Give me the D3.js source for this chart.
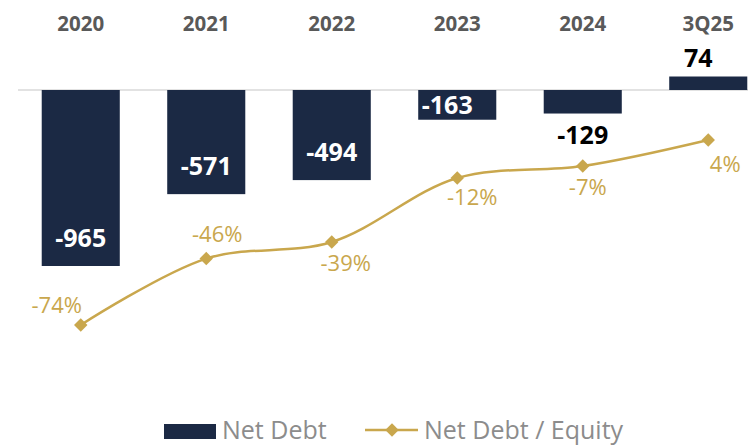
<!DOCTYPE html>
<html>
<head>
<meta charset="utf-8">
<script src="https://cdn.jsdelivr.net/npm/d3@7"></script>
<style>
  html, body { margin: 0; padding: 0; background: #ffffff; }
  svg { display: block; font-family: "Open Sans", "Noto Sans", sans-serif; }
</style>
</head>
<body>
<svg id="chart" width="748" height="445"></svg>
<script>
// Periods shown along the top
const periods = ["2020", "2021", "2022", "2023", "2024", "3Q25"];
// Net debt (bars)
const netDebt = [-965, -571, -494, -163, -129, 74];
// Net debt / equity, in percent (line)
const netDebtEquity = [-74, -46, -39, -12, -7, 4];
// Legend entries
const legendLabels = ["Net Debt", "Net Debt / Equity"];

// Where each bar label sits relative to its bar, and a horizontal nudge
const barLabelMode = ["inside", "inside", "inside", "inside", "outside", "outside"];
const barLabelNudge = [0, 0, 0, -10, 0, -10];
// Offset of each ratio label from its marker
const pctLabelOffset = [[-24, -20], [11, -24], [14, 21], [15, 19], [5, 21], [17, 24]];

const NAVY = "#1b2944";
const GOLD = "#c9a74d";

const svg = d3.select("#chart");

const x = d3.scaleBand().domain(periods).range([18, 771]).paddingInner(0.378).paddingOuter(0.189);
const y = d3.scaleLinear().domain([-965, 0]).range([266, 90]);
const y2 = d3.scaleLinear().domain([-74, 4]).range([325, 140]);

// period labels across the top
svg.append("g").selectAll("text").data(periods).join("text")
  .attr("x", d => x(d) + x.bandwidth() / 2)
  .attr("y", 31)
  .attr("text-anchor", "middle")
  .attr("font-size", 20.5).attr("font-weight", 700)
  .attr("fill", "#595959")
  .text(d => d);

// zero line
svg.append("line")
  .attr("x1", 18).attr("x2", 748)
  .attr("y1", y(0)).attr("y2", y(0))
  .attr("stroke", "#d9d9d9").attr("stroke-width", 1.5);

// bars
svg.append("g").selectAll("rect").data(netDebt).join("rect")
  .attr("x", (d, i) => x(periods[i]))
  .attr("width", x.bandwidth())
  .attr("y", d => Math.min(y(d), y(0)))
  .attr("height", d => Math.abs(y(d) - y(0)))
  .attr("fill", NAVY);

// bar value labels
svg.append("g").selectAll("text").data(netDebt).join("text")
  .attr("x", (d, i) => x(periods[i]) + x.bandwidth() / 2 + barLabelNudge[i])
  .attr("y", (d, i) => {
    if (barLabelMode[i] === "inside") return Math.max(y(d) - 19, y(0) + 24);
    return d < 0 ? y(d) + 30 : y(d) - 10;
  })
  .attr("text-anchor", "middle")
  .attr("font-size", 25).attr("font-weight", 700)
  .attr("fill", (d, i) => barLabelMode[i] === "inside" ? "#ffffff" : "#000000")
  .text(d => d);

// ratio line
const line = d3.line()
  .x((d, i) => x(periods[i]) + x.bandwidth() / 2)
  .y(d => y2(d))
  .curve(d3.curveCatmullRom.alpha(0.5));

svg.append("path")
  .datum(netDebtEquity)
  .attr("d", line)
  .attr("fill", "none")
  .attr("stroke", GOLD)
  .attr("stroke-width", 2.5);

const diamond = d3.symbol().type(d3.symbolDiamond2).size(115);

svg.append("g").selectAll("path").data(netDebtEquity).join("path")
  .attr("d", diamond)
  .attr("transform", (d, i) => `translate(${x(periods[i]) + x.bandwidth() / 2},${y2(d)})`)
  .attr("fill", GOLD);

svg.append("g").selectAll("text").data(netDebtEquity).join("text")
  .attr("x", (d, i) => x(periods[i]) + x.bandwidth() / 2 + pctLabelOffset[i][0])
  .attr("y", (d, i) => y2(d) + pctLabelOffset[i][1])
  .attr("dy", "0.35em")
  .attr("text-anchor", "middle")
  .attr("font-size", 22)
  .attr("fill", GOLD)
  .text(d => d + "%");

// legend
const legend = svg.append("g");
legend.append("rect")
  .attr("x", 164).attr("y", 424).attr("width", 52).attr("height", 15)
  .attr("fill", NAVY);
legend.append("text")
  .attr("x", 222).attr("y", 439)
  .attr("font-size", 25).attr("fill", "#8c8c8c")
  .text(legendLabels[0]);
legend.append("line")
  .attr("x1", 365).attr("x2", 418).attr("y1", 430).attr("y2", 430)
  .attr("stroke", GOLD).attr("stroke-width", 2.5);
legend.append("path")
  .attr("d", diamond)
  .attr("transform", "translate(392,430)")
  .attr("fill", GOLD);
legend.append("text")
  .attr("x", 424).attr("y", 439)
  .attr("font-size", 25).attr("fill", "#8c8c8c")
  .text(legendLabels[1]);
</script>
</body>
</html>
